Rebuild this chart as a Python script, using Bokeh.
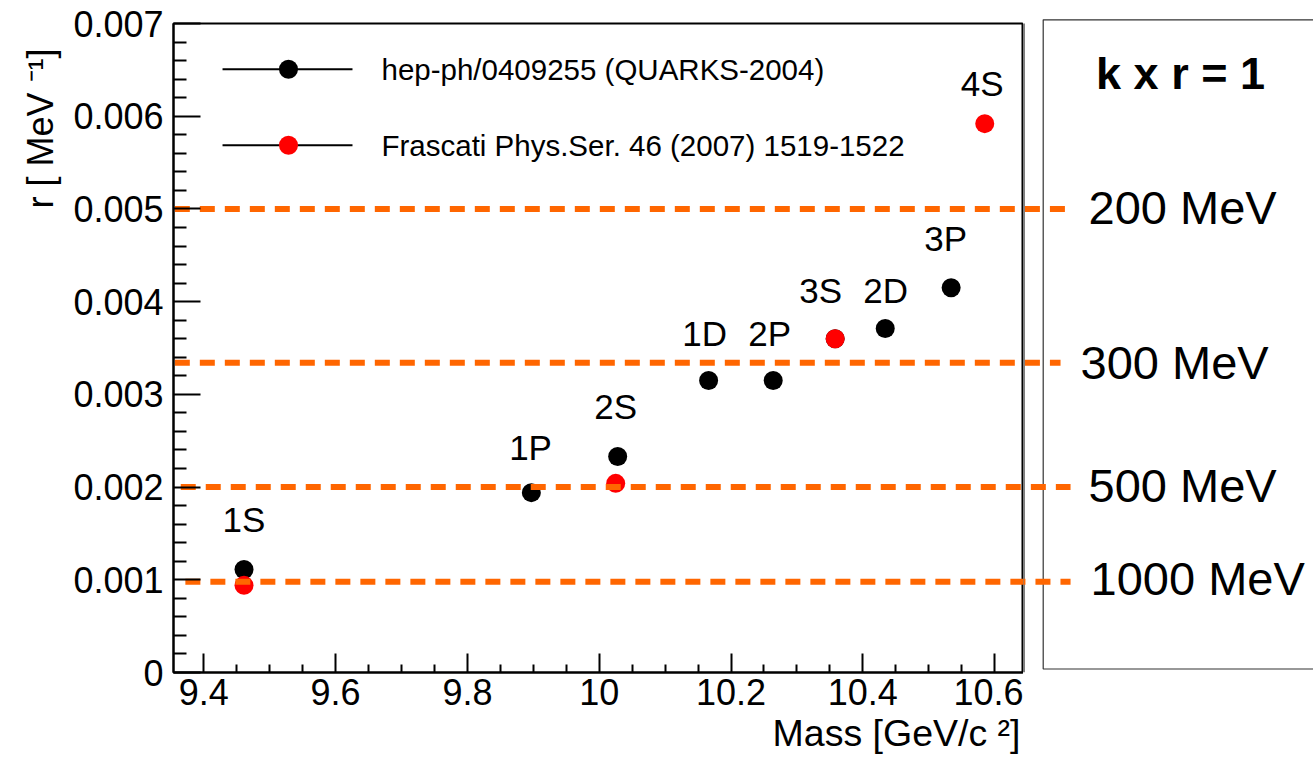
from bokeh.plotting import figure
from bokeh.layouts import row
from bokeh.models import FixedTicker, Range1d, Title
from bokeh.core.properties import value
from bokeh.embed import file_html
from bokeh.resources import INLINE

# ---------------- data ----------------
black_states = ["1S", "1P", "2S", "1D", "2P", "3S", "2D", "3P"]
black_mass = [9.461, 9.897, 10.028, 10.166, 10.264, 10.358, 10.434, 10.534]
black_r = [0.00111, 0.00194, 0.00233, 0.00315, 0.00315, 0.00360, 0.00371, 0.00415]

red_states = ["1S", "2S", "3S", "4S"]
red_mass = [9.461, 10.025, 10.358, 10.585]
red_r = [0.00094, 0.00204, 0.00360, 0.00592]

state_labels = ["1S", "1P", "2S", "1D", "2P", "3S", "2D", "3P", "4S"]
state_label_x = [9.4607, 9.8958, 10.025, 10.160, 10.2587, 10.336, 10.4347, 10.5258, 10.5812]
state_label_y = [0.00165, 0.00243, 0.00287, 0.00366, 0.00366, 0.00412, 0.00412, 0.00468, 0.00635]

scale_names = ["200 MeV", "300 MeV", "500 MeV", "1000 MeV"]
scale_r = [0.005, 0.00334, 0.002, 0.00098]

legend_names = ["hep-ph/0409255 (QUARKS-2004)", "Frascati Phys.Ser. 46 (2007) 1519-1522"]

y_major = [0.0, 0.001, 0.002, 0.003, 0.004, 0.005, 0.006, 0.007]
y_major_labels = ["0", "0.001", "0.002", "0.003", "0.004", "0.005", "0.006", "0.007"]
x_major = [9.4, 9.6, 9.8, 10.0, 10.2, 10.4, 10.6]
x_major_labels = ["9.4", "9.6", "9.8", "10", "10.2", "10.4", "10.6"]

x_title = "Mass [GeV/c ²]"
y_title = "r [ MeV ⁻¹]"
box_title = "k x r = 1"

# ---------------- layout constants ----------------
FONT = "Liberation Sans"
X0 = 9.354
XM = 10.6438           # right edge of the main frame
X1 = 11.0839
Y_TOP_MAIN = 0.007
Y_TOP_SIDE = 0.0072486
ORANGE = "#ff6600"

# ---------------- main plot ----------------
p = figure(width=1023, height=764, title=None,
           x_range=Range1d(X0, XM), y_range=Range1d(0.0, Y_TOP_MAIN),
           output_backend="svg", toolbar_location=None,
           min_border_left=173, min_border_right=0,
           min_border_top=23, min_border_bottom=92)
p.outline_line_color = "black"
p.outline_line_width = 2
p.xgrid.visible = False
p.ygrid.visible = False
p.background_fill_color = "white"
p.border_fill_color = "white"

y_minor = [round(i * 0.0002, 5) for i in range(1, 35) if i % 5 != 0]
x_minor = [round(9.4 + i * 0.05, 3) for i in range(1, 24) if i % 4 != 0]

p.yaxis.ticker = FixedTicker(ticks=y_major, minor_ticks=y_minor)
p.xaxis.ticker = FixedTicker(ticks=x_major, minor_ticks=x_minor)
p.yaxis.major_label_overrides = {t: s for t, s in zip(y_major, y_major_labels)}
p.xaxis.major_label_overrides = {t: s for t, s in zip(x_major, x_major_labels)}

for ax in (p.xaxis[0], p.yaxis[0]):
    ax.axis_line_color = "black"
    ax.axis_line_width = 2
    ax.major_tick_line_color = "black"
    ax.minor_tick_line_color = "black"
    ax.major_tick_line_width = 2
    ax.minor_tick_line_width = 2
    ax.major_tick_out = 0
    ax.minor_tick_out = 0
    ax.major_label_text_font = FONT
    ax.major_label_text_font_size = "36px"
    ax.major_label_text_color = "black"

p.yaxis.major_tick_in = 27
p.yaxis.minor_tick_in = 13
p.yaxis.major_label_standoff = 10
p.xaxis.major_tick_in = 19
p.xaxis.minor_tick_in = 8
p.xaxis.major_label_standoff = 6

# axis titles, right/top aligned like the original
p.add_layout(Title(text=x_title, align="right", offset=3, standoff=4,
                   text_font=FONT, text_font_size="37.5px", text_font_style="normal",
                   text_color="black"), "below")
p.add_layout(Title(text=y_title, align="right", offset=25, standoff=20,
                   text_font=FONT, text_font_size="36px", text_font_style="normal",
                   text_color="black"), "left")

# markers
p.scatter(x=black_mass, y=black_r, size=19, fill_color="black", line_color=None)
p.scatter(x=red_mass, y=red_r, size=19, fill_color="#ff0000", line_color=None)

# orange scale lines (continue into the side panel)
line_x_start = [9.356, 9.356, 9.365, 9.372]
line_x_end = [10.7121, 10.7000, 10.7152, 10.7152]
p.segment(x0=line_x_start, y0=scale_r, x1=line_x_end, y1=scale_r,
          line_color=ORANGE, line_width=6, line_dash="15 10", line_cap="butt")

# state labels
p.text(x=state_label_x, y=state_label_y, text=state_labels,
       text_font=value(FONT), text_font_size="35px", text_align="center",
       text_baseline="middle", text_color="black")

# legend
leg_y = [0.006507, 0.005687]
p.segment(x0=[9.4284, 9.4284], y0=leg_y, x1=[9.6256, 9.6256], y1=leg_y,
          line_color="black", line_width=2)
p.scatter(x=[9.5285], y=[leg_y[0]], size=19, fill_color="black", line_color=None)
p.scatter(x=[9.5285], y=[leg_y[1]], size=19, fill_color="#ff0000", line_color=None)
p.text(x=[9.6696, 9.6696], y=leg_y, text=legend_names,
       text_font=value(FONT), text_font_size="29.5px", text_align="left",
       text_baseline="middle", text_color="black")

# ---------------- side panel ----------------
q = figure(width=290, height=764, title=None,
           x_range=Range1d(XM, X1), y_range=Range1d(0.0, Y_TOP_SIDE),
           output_backend="svg", toolbar_location=None,
           x_axis_location=None, y_axis_location=None,
           min_border_left=0, min_border_right=0,
           min_border_top=0, min_border_bottom=92)
q.outline_line_color = None
q.xgrid.visible = False
q.ygrid.visible = False
q.background_fill_color = "white"
q.border_fill_color = "white"
try:
    p.frame_align = False
    q.frame_align = False
except Exception:
    pass

# remaining half of the main frame's right edge
q.line(x=[XM, XM], y=[0.0, Y_TOP_MAIN], line_color="black", line_width=2)

# box
q.line(x=[11.2, 10.6737, 10.6737, 11.2], y=[0.00704, 0.00704, 0.0000378, 0.0000378],
       line_color="#333333", line_width=1.2)

q.segment(x0=line_x_start, y0=scale_r, x1=line_x_end, y1=scale_r,
          line_color=ORANGE, line_width=6, line_dash="15 10", line_cap="butt")

q.text(x=[10.8821], y=[0.006464], text=[box_title],
       text_font=value(FONT), text_font_size="45px", text_font_style="bold",
       text_align="center", text_baseline="middle", text_color="black")
energy_x = [10.7425, 10.7304, 10.7425, 10.7456]
energy_y = [0.005018, 0.003345, 0.002018, 0.001014]
q.text(x=energy_x, y=energy_y, text=scale_names,
       text_font=value(FONT), text_font_size="47px", text_align="left",
       text_baseline="middle", text_color="black")

layout = row(p, q, spacing=0)
open("out.html", "w").write(file_html(layout, INLINE))
